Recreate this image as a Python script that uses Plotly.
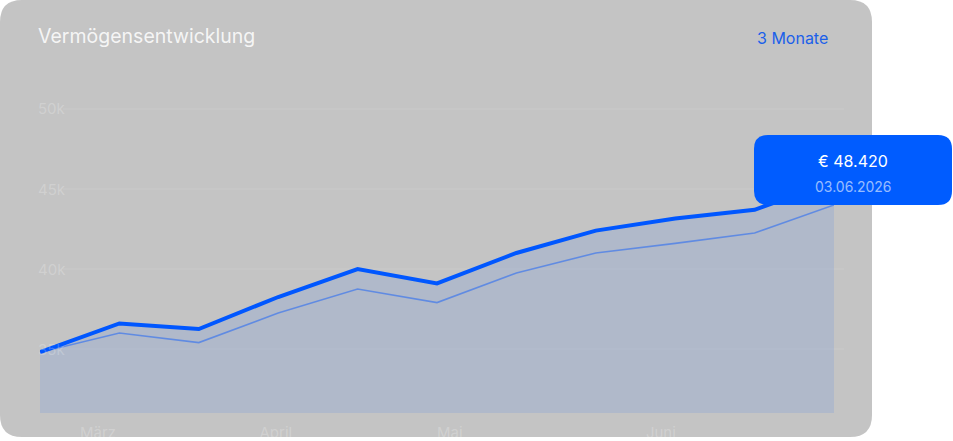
import plotly.graph_objects as go

# === Daten ===
punkte = [0, 1, 2, 3, 4, 5, 6, 7, 8, 9, 10]
vermoegen = [34800, 36600, 36250, 38250, 40000, 39100, 41000, 42400, 43150, 43700, 45500]
vergleich = [34800, 36000, 35400, 37250, 38750, 37900, 39750, 41000, 41600, 42250, 44000]

monat_pos = [0.73, 2.97, 5.16, 7.82]
monat_text = ["März", "April", "Mai", "Juni"]

y_ticks = [35000, 40000, 45000, 50000]
y_labels = ["35k", "40k", "45k", "50k"]

titel = "Vermögensentwicklung"
zeitraum = "3 Monate"
tooltip_wert = "€ 48.420"
tooltip_datum = "03.06.2026"

# Referenzmaße in Pixeln; alles wird relativ zur Figur gesetzt
W, H = 953, 441
PLOT_L, PLOT_R, PLOT_T, PLOT_B = 40, 834, 61, 413


def px(x):
    return x / W


def py(y):
    return 1 - y / H


def rounded_rect(x0, y0, x1, y1, r):
    # Pixel-Koordinaten -> Paper-Pfad mit abgerundeten Ecken
    return (
        f"M {px(x0 + r)} {py(y0)} L {px(x1 - r)} {py(y0)} "
        f"Q {px(x1)} {py(y0)} {px(x1)} {py(y0 + r)} "
        f"L {px(x1)} {py(y1 - r)} "
        f"Q {px(x1)} {py(y1)} {px(x1 - r)} {py(y1)} "
        f"L {px(x0 + r)} {py(y1)} "
        f"Q {px(x0)} {py(y1)} {px(x0)} {py(y1 - r)} "
        f"L {px(x0)} {py(y0 + r)} "
        f"Q {px(x0)} {py(y0)} {px(x0 + r)} {py(y0)} Z"
    )


fig = go.Figure()

fig.add_trace(go.Scatter(
    x=punkte, y=vermoegen,
    mode="lines",
    line=dict(color="#0057ff", width=4),
    fill="tozeroy",
    fillcolor="rgba(0,85,255,0.1)",
    hoverinfo="skip",
))

fig.add_trace(go.Scatter(
    x=punkte, y=vergleich,
    mode="lines",
    line=dict(color="rgba(0,85,255,0.45)", width=1.6),
    hoverinfo="skip",
))

shapes = [
    dict(type="path", xref="paper", yref="paper", layer="below",
         path=rounded_rect(0, 0, 872, 437, 22),
         fillcolor="#c4c4c4", line=dict(width=0)),
]
for v in y_ticks:
    shapes.append(dict(type="line", xref="paper", yref="y", layer="below",
                       x0=px(63), x1=px(844), y0=v, y1=v,
                       line=dict(color="rgba(255,255,255,0.12)", width=1)))
shapes.append(dict(type="path", xref="paper", yref="paper", layer="above",
                   path=rounded_rect(754, 135, 952, 205, 14),
                   fillcolor="#005cff", line=dict(width=0)))

annotations = [
    dict(text=titel, xref="paper", yref="paper", x=px(36), y=py(36),
         xanchor="left", yanchor="middle", showarrow=False,
         font=dict(family="Inter", size=19.5, color="rgba(255,255,255,0.85)")),
    dict(text=zeitraum, xref="paper", yref="paper", x=px(830), y=py(38),
         xanchor="right", yanchor="middle", showarrow=False,
         font=dict(family="Inter", size=16, color="#1a60ea")),
    dict(text=tooltip_wert, xref="paper", yref="paper", x=px(853), y=py(161),
         xanchor="center", yanchor="middle", showarrow=False,
         font=dict(family="Inter", size=16, color="white")),
    dict(text=tooltip_datum, xref="paper", yref="paper", x=px(853), y=py(186),
         xanchor="center", yanchor="middle", showarrow=False,
         font=dict(family="Inter", size=14, color="rgba(255,255,255,0.6)")),
]
for v, lab in zip(y_ticks, y_labels):
    annotations.append(dict(text=lab, xref="paper", yref="y", x=px(36), y=v,
                            xanchor="left", yanchor="middle", showarrow=False,
                            font=dict(family="Inter", size=15,
                                      color="rgba(255,255,255,0.22)")))

# Größe kommt vom Div (siehe write_html), Plotbereich über domain
fig.update_layout(
    autosize=True,
    margin=dict(l=0, r=0, t=0, b=0, pad=0),
    paper_bgcolor="white",
    plot_bgcolor="rgba(0,0,0,0)",
    showlegend=False,
    shapes=shapes,
    annotations=annotations,
    font=dict(family="Inter"),
)

fig.update_xaxes(
    domain=[px(PLOT_L), px(PLOT_R)], automargin=False,
    range=[0, 10], showgrid=False, zeroline=False, showline=False,
    tickvals=monat_pos, ticktext=monat_text,
    ticks="outside", ticklen=6, tickcolor="rgba(0,0,0,0)",
    tickfont=dict(family="Inter", size=15, color="rgba(255,255,255,0.22)"),
)
fig.update_yaxes(
    domain=[py(PLOT_B), py(PLOT_T)], automargin=False,
    range=[31000, 53000], showgrid=False, zeroline=False, showline=False,
    showticklabels=False,
)

# Div füllt das Fenster ab der linken oberen Ecke
fig.write_html(
    "out.html",
    config={"displayModeBar": False},
    default_width="100vw",
    default_height="100vh; position:absolute; top:0; left:0",
)
